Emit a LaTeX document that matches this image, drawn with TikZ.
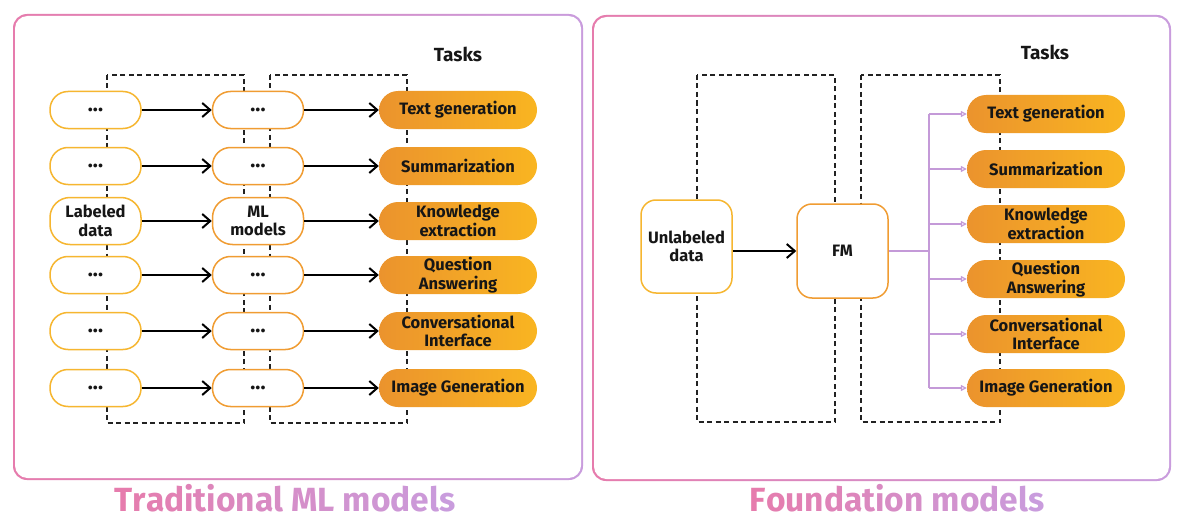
\documentclass[tikz,border=0pt]{standalone}
\usepackage{fontspec}
\setmainfont{Fira Sans}
\usetikzlibrary{arrows.meta}
\definecolor{pinkC}{HTML}{E67CAD}
\definecolor{purpC}{HTML}{C99CDD}
\definecolor{boxA}{HTML}{F6B630}
\definecolor{boxB}{HTML}{F09C32}
\definecolor{pillL}{HTML}{EB932D}
\definecolor{pillR}{HTML}{F9B521}
\definecolor{branchC}{HTML}{C49AD8}
\definecolor{dashC}{HTML}{222222}
\definecolor{txtC}{HTML}{161616}
\ExplSyntaxOn
\int_new:N \l__gt_i_int
\cs_new_protected:Npn \__gt_letter:nn #1#2 { \textcolor{purpC!#1!pinkC}{#2} }
\cs_generate_variant:Nn \__gt_letter:nn {xn}
\NewDocumentCommand \gradtext {mmm}
 {
   \int_set:Nn \l__gt_i_int {#1}
   \tl_map_inline:nn {#3}
     {
       \__gt_letter:xn { \int_eval:n { 100 * \l__gt_i_int / #2 } } {##1}
       \int_incr:N \l__gt_i_int
     }
 }
\ExplSyntaxOff
\newcommand\bigdots{{\fontsize{21}{21}\selectfont\raisebox{-2pt}{...}}}
\tikzset{
  panelouter/.style={rounded corners=14pt, left color=pinkC, right color=purpC},
  panelinner/.style={rounded corners=12.5pt, fill=white},
  lbl/.style={font=\bfseries\fontsize{16.5}{18.5}\selectfont, text=txtC, align=center, inner sep=0pt},
  inbox/.style={lbl, draw=boxA, line width=1.5pt, fill=white, rounded corners=18pt, minimum width=91pt, minimum height=37pt},
  mdbox/.style={inbox, draw=boxB},
  bigbox/.style={lbl, draw=boxA, line width=1.5pt, fill=white, rounded corners=15pt, minimum width=91pt, minimum height=93pt},
  task/.style={lbl, left color=pillL, right color=pillR, rounded corners=19pt, minimum width=158pt, minimum height=38pt},
  arr/.style={-{Straight Barb[length=8pt,width=14pt]}, line width=2pt, black},
  brline/.style={branchC, line width=1.2pt},
  brarr/.style={-{Triangle[open,length=6pt,width=6pt]}, branchC, line width=1.2pt},
  dashbox/.style={dashC, line width=1.3pt, dash pattern=on 5pt off 3.5pt},
  tasks/.style={font=\bfseries\fontsize{19}{22}\selectfont, text=txtC, inner sep=0pt, anchor=base},
  ttl/.style={font=\bfseries\fontsize{33.5}{40}\selectfont, inner sep=0pt, anchor=base}
}
\begin{document}
\begin{tikzpicture}[x=1pt,y=-1pt]
\useasboundingbox (0,0) rectangle (1184,527);
\fill[white] (0,0) rectangle (1184,527);
% panels
\path[panelouter] (13,14) rectangle (583,480);
\path[panelinner] (15,16) rectangle (581,478);
\path[panelouter] (592,15) rectangle (1171,481);
\path[panelinner] (594,17) rectangle (1169,479);
% titles
\node[ttl] (t-left) at (285,511) {\gradtext{0}{20}{Traditional} \gradtext{12}{20}{ML} \gradtext{15}{20}{models}};
\node[ttl] (t-right) at (897,511) {\gradtext{0}{16}{Foundation} \gradtext{11}{16}{models}};
% ---------- left panel ----------
\node[tasks] (tasks-l) at (458,62) {Tasks};
\draw[dashbox] (107,75) rectangle (244,423);
\draw[dashbox] (270,75) rectangle (407,423);
\node[inbox] (a1) at (95.5,110) {\bigdots};
\node[inbox] (a2) at (95.5,166) {\bigdots};
\node[inbox, minimum height=47pt, rounded corners=20pt] (a3) at (95.5,221) {Labeled\\data};
\node[inbox] (a4) at (95.5,275) {\bigdots};
\node[inbox] (a5) at (95.5,331) {\bigdots};
\node[inbox] (a6) at (95.5,388) {\bigdots};
\node[mdbox] (b1) at (258,110) {\bigdots};
\node[mdbox] (b2) at (258,166) {\bigdots};
\node[mdbox, minimum height=47pt, rounded corners=20pt] (b3) at (258,221) {ML\\models};
\node[mdbox] (b4) at (258,275) {\bigdots};
\node[mdbox] (b5) at (258,331) {\bigdots};
\node[mdbox] (b6) at (258,388) {\bigdots};
\node[task] (c1) at (458,110) {Text generation};
\node[task] (c2) at (458,166) {Summarization};
\node[task] (c3) at (458,221) {Knowledge\\extraction};
\node[task] (c4) at (458,275) {Question\\Answering};
\node[task] (c5) at (458,331) {Conversational\\Interface};
\node[task] (c6) at (458,388) {Image Generation};
\foreach \i in {1,...,6}{
  \draw[arr] (a\i.east) -- (b\i.west);
  \draw[arr] (b\i.east) -- (c\i.west);
}
% ---------- right panel ----------
\node[tasks] (tasks-r) at (1045,60) {Tasks};
\draw[dashbox] (697,75) rectangle (835,422);
\draw[dashbox] (861,75) rectangle (1000,422);
\node[bigbox] (ud) at (686.5,246.5) {Unlabeled\\data};
\node[bigbox, draw=boxB, minimum height=94pt] (fm) at (842.5,251) {FM};
\draw[arr] (ud.east |- 0,251) -- (fm.west);
\node[task] (d1) at (1046,114) {Text generation};
\node[task] (d2) at (1046,169) {Summarization};
\node[task] (d3) at (1046,224) {Knowledge\\extraction};
\node[task] (d4) at (1046,279) {Question\\Answering};
\node[task] (d5) at (1046,334) {Conversational\\Interface};
\node[task] (d6) at (1046,388) {Image Generation};
\coordinate (bj) at (929,251);
\draw[brline] (fm.east) -- (bj);
\draw[brline] (bj |- d1.west) -- (bj |- d6.west);
\foreach \i in {1,...,6}{
  \draw[brarr] (bj |- d\i.west) -- (d\i.west);
}
\end{tikzpicture}
\end{document}
